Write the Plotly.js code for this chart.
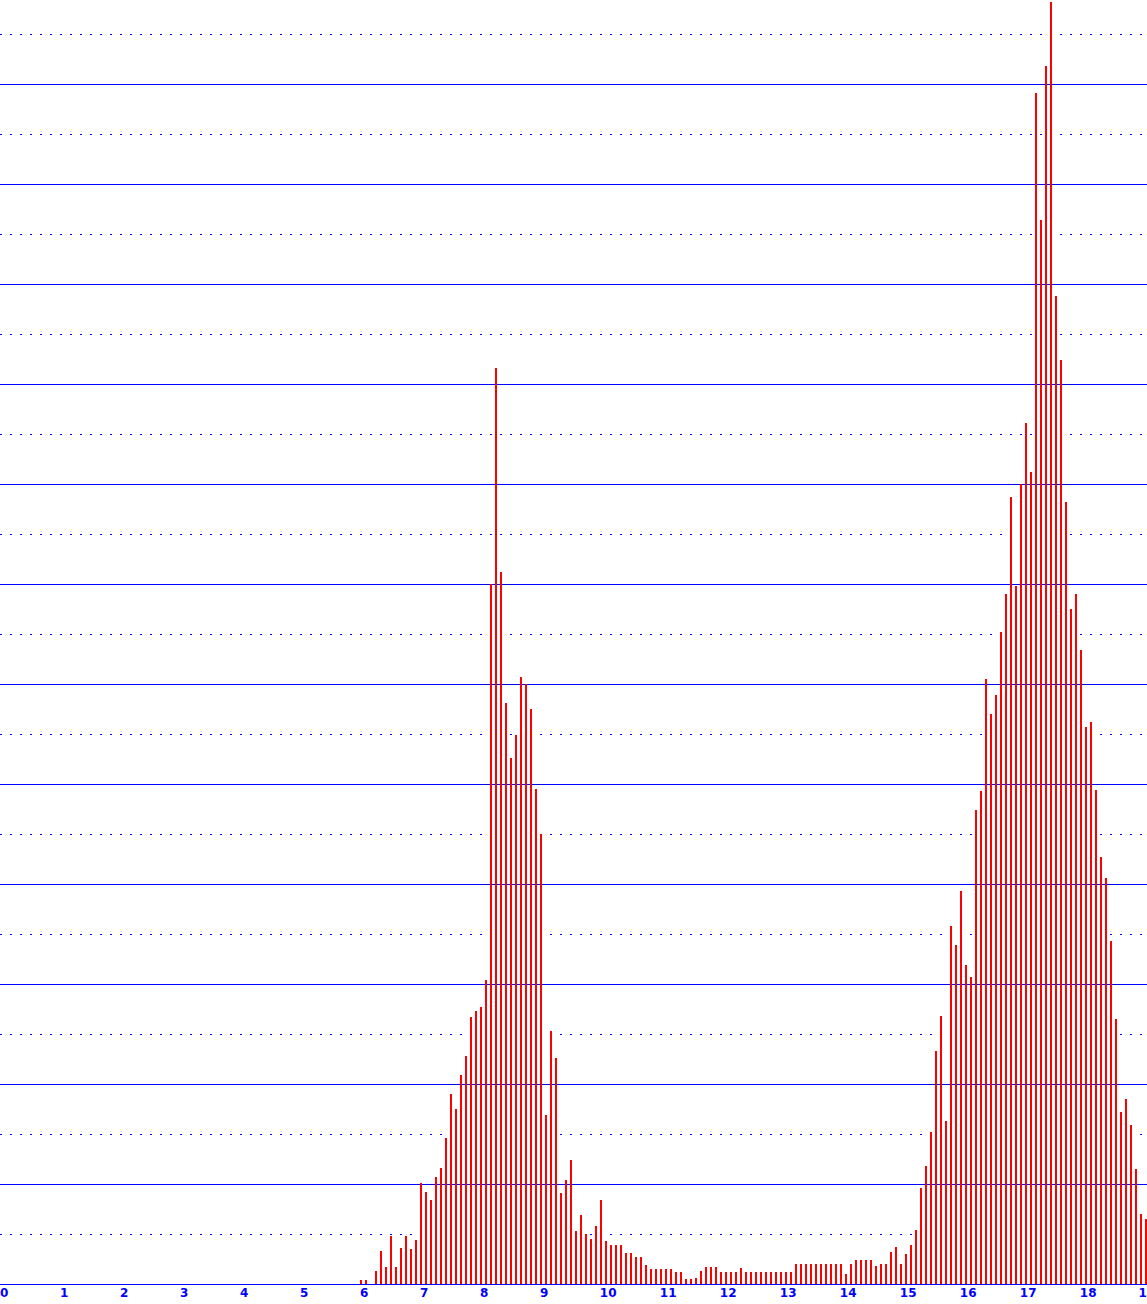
<!DOCTYPE html>
<html>
<head>
<meta charset="utf-8">
<script src="https://cdn.plot.ly/plotly-3.0.1.min.js"></script>
<style>
    html, body { margin: 0; padding: 0; background: #ffffff; }
    #chart { width: 1147px; height: 1304px; }
</style>
</head>
<body>
<div id="chart"></div>
<script>
        // 5-minute bins starting at 6:00, 12 bins per hour
        const startHour = 6;
        const binsPerHour = 12;
        const counts = [
            4, 4, 0, 13, 33, 17, 48, 17, 36, 48, 35, 44,
            101, 92, 84, 107, 116, 146, 190, 175, 209, 228, 267, 273,
            277, 304, 700, 916, 712, 581, 526, 549, 607, 600, 575, 495,
            450, 169, 253, 226, 91, 104, 124, 53, 69, 50, 45, 58,
            84, 43, 39, 39, 39, 31, 31, 27, 27, 19, 15, 15,
            15, 15, 15, 12, 12, 5, 5, 6, 13, 17, 17, 17,
            12, 12, 12, 12, 16, 12, 12, 12, 12, 12, 12, 12,
            12, 12, 12, 20, 20, 20, 20, 20, 20, 20, 20, 20,
            20, 10, 20, 24, 24, 24, 24, 18, 20, 20, 32, 37,
            20, 30, 39, 54, 96, 118, 152, 233, 268, 163, 358, 339,
            393, 319, 307, 474, 493, 605, 570, 589, 652, 690, 787, 698,
            800, 861, 812, 1191, 1064, 1218, 1282, 988, 924, 782, 675, 690,
            634, 557, 562, 494, 427, 406, 343, 265, 172, 185, 159, 115,
            70, 65
        ];
        const hours = [0, 1, 2, 3, 4, 5, 6, 7, 8, 9, 10, 11, 12, 13, 14, 15, 16, 17, 18, 19];

        const xMax = 1147 / 60;
        const yMax = 1284;

        function drawChart() {
            let times = counts.map((c, i) => startHour + i / binsPerHour);

            // labels sit to the right of their hour, like left-aligned text
            let tickPos = hours.map(h => Math.min(h + (String(h).length * 4 + 0.2) / 60, xMax - 0.002));

            const trace = {
                x: times,
                y: counts,
                type: 'bar',
                width: 2 / 60,
                offset: 0,
                marker: { color: '#ff0000', line: { width: 0 } },
                hoverinfo: 'skip'
            };

            const layout = {
                width: 1147,
                height: 1304,
                margin: { l: 0, r: 0, t: 0, b: 20, pad: 0 },
                paper_bgcolor: '#ffffff',
                plot_bgcolor: '#ffffff',
                showlegend: false,
                hovermode: false,
                xaxis: {
                    range: [0, xMax],
                    tickmode: 'array',
                    tickvals: tickPos,
                    ticktext: hours.map(String),
                    ticks: '',
                    showgrid: false,
                    zeroline: false,
                    showline: false,
                    ticklabeloverflow: 'allow',
                    tickfont: { family: 'DejaVu Sans', size: 12, color: '#0000ff', weight: 'bold' }
                },
                yaxis: {
                    range: [0, yMax],
                    tick0: 0,
                    dtick: 100,
                    showticklabels: false,
                    ticks: '',
                    showgrid: true,
                    gridcolor: '#0000ff',
                    gridwidth: 1,
                    zeroline: true,
                    zerolinecolor: '#0000ff',
                    zerolinewidth: 1,
                    minor: {
                        tick0: 0,
                        dtick: 50,
                        showgrid: true,
                        gridcolor: '#0000ff',
                        gridwidth: 1,
                        griddash: '2px,8px'
                    }
                }
            };

            Plotly.newPlot('chart', [trace], layout, { staticPlot: true, displayModeBar: false });
        }

        drawChart();
</script>
</body>
</html>
